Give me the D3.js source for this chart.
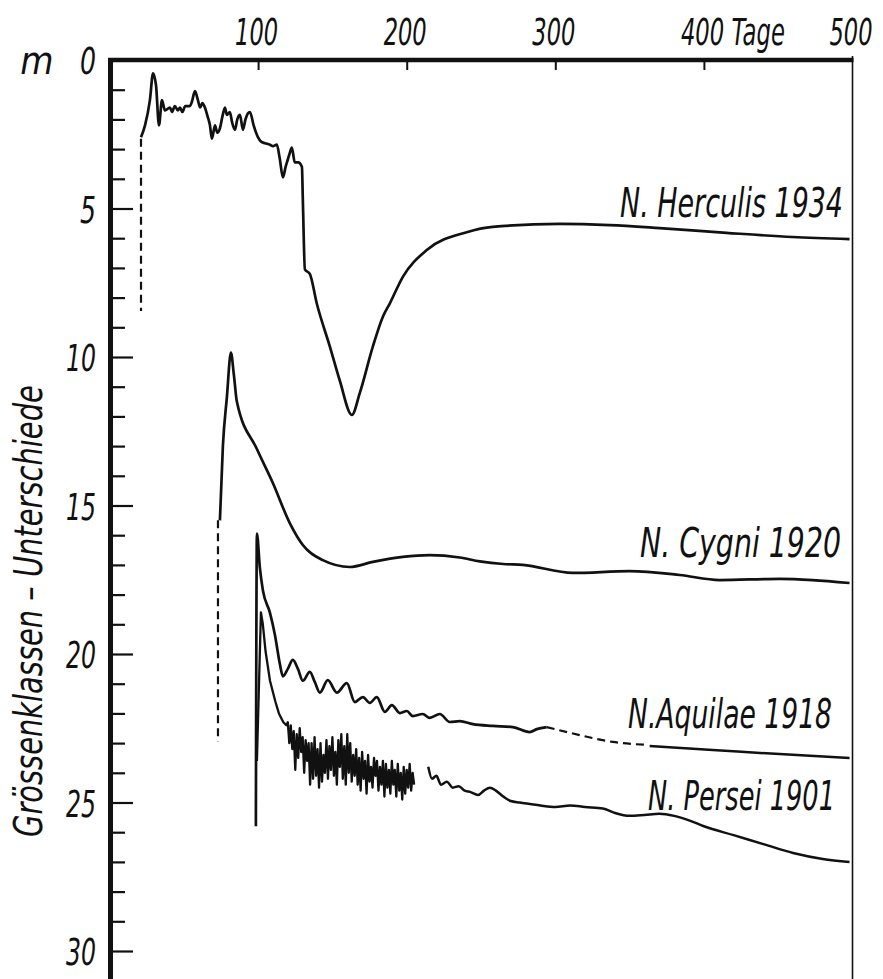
<!DOCTYPE html>
<html>
<head>
<meta charset="utf-8">
<script src="https://cdn.jsdelivr.net/npm/d3@7"></script>
<style>
  body { margin: 0; background: #fff; }
  text { font-family: "Liberation Sans Narrow", "DejaVu Sans Condensed", sans-serif; font-style: italic; fill: #111; }
</style>
</head>
<body>
<script>
// light curves: [Tage, Grössenklassen-Unterschied]
var herculis = [[21.2,2.6],[23.9,2.2],[27.2,1.35],[29.3,0.45],[31.3,0.85],[33.3,2.2],[35.3,1.35],[37.3,1.7],[40.7,1.6],
  [42,1.75],[44,1.55],[46,1.7],[47.4,1.6],[49,1.75],[51,1.55],[54.1,1.55],[55.5,1.4],[57.5,1.05],[59.5,1.35],[61,1.6],
  [62.5,1.45],[64.2,1.6],[66,1.9],[67.6,2.2],[68.9,2.65],[71.0,2.2],[72.5,2.45],[74.3,2.3],[76,1.9],[77.7,1.6],
  [79,1.85],[81.0,1.75],[82.5,2.1],[84.4,2.35],[86,2.0],[87.8,1.85],[89.8,2.35],[91.5,2.0],[93.1,1.8],[94.5,1.75],
  [97,2.2],[99.9,2.6],[102,2.75],[104.6,2.8],[108,2.85],[110,2.9],[112.6,2.85],[114.5,3.3],[116.7,3.95],
  [118.5,3.6],[120.0,3.35],[121.5,3.1],[122.7,2.95],[124.7,3.45],[127,3.45],[129.5,3.6],[130.1,4.7],[131.5,7.05],
  [134.8,7.2],[139.5,8.2],[148.3,9.65],[155.0,10.8],[163.1,11.95],[168.5,11.2],[177.2,9.65],[183.9,8.65],[188.6,8.2],
  [197.4,7.3],[213.5,6.4],[240.4,5.8],[257.9,5.62],[302.9,5.52],[336.6,5.56],[370.2,5.66],[415.2,5.82],[459.6,5.96],[498,6.03]];
var herculisDash = [[21.2,2.65],[21.2,8.45]];

var cygni = [[74.3,15.5],[76.3,13.0],[79.0,11.35],[81.7,9.85],[83.7,10.6],[85.7,11.5],[99.2,13.1],[110.0,14.25],
  [121.4,15.6],[130.1,16.33],[143.6,16.84],[161.7,17.07],[177.2,16.9],[197.4,16.73],[215.5,16.67],[235.7,16.75],
  [249.2,16.88],[265,16.97],[278.1,17.0],[311.7,17.27],[350.0,17.21],[383.7,17.34],[410.6,17.51],[450.9,17.47],
  [473.1,17.51],[498,17.61]];
var cygniDash = [[73.0,15.5],[73.0,22.95]];

var aquilae = [[98.5,25.8],[99.2,15.95],[101.2,17.1],[103.2,17.85],[107.9,18.6],[111.3,19.35],[114.7,20.35],[116.7,20.75],
  [120.0,20.5],[123.4,20.2],[126.8,20.5],[130.1,20.9],[134.8,20.6],[138.2,20.95],[141.6,21.3],[146.9,20.88],[153.0,21.3],
  [159.7,20.98],[165.1,21.62],[170.5,21.45],[175.2,21.65],[179.9,21.45],[185.3,21.95],[190.0,21.72],[195.4,21.99],
  [200.1,21.92],[204.1,22.09],[210.8,22.02],[215.5,22.15],[222.3,22.02],[229.0,22.29],[235.7,22.26],[244.5,22.36],
  [257.9,22.42],[271.4,22.46],[282.8,22.63],[287.5,22.53],[294.2,22.46]];
var aquilaeDash = [[294.2,22.46],[316.4,22.73],[338.6,22.96],[361.5,23.06]];
var aquilaeTail = [[363.5,23.1],[405.9,23.23],[450.9,23.37],[498,23.5]];

var persei = [[99.2,23.6],[101.9,18.6],[103.2,19.0],[105,19.9],[108,20.9],[111.6,21.6],[114,22.0],[117,22.3],[119,22.4],
  [120,22.3],[121,23.0],[122,22.4],[123,23.2],[124,22.6],[125,23.9],[126,22.7],[127,23.5],[128,22.5],[129,23.3],[130,22.8],
  [131,24.0],[132,22.9],[133,23.6],[134,23.0],[135,24.4],[136,23.0],[137,24.2],[138,22.8],[139,24.1],[140,23.2],[141,24.5],
  [142,23.0],[143,24.3],[144,23.4],[145,24.0],[146,22.9],[147,24.2],[148,23.1],[149,23.9],[150,22.8],[151,24.1],[152,23.3],
  [153,24.4],[154,22.9],[155,23.8],[156,22.7],[157,24.2],[158,23.1],[159,24.4],[160,22.7],[161,24.0],[162,23.0],[163,24.3],
  [164,23.4],[165,24.1],[166,23.2],[167,24.4],[168,23.5],[169,24.6],[170,23.3],[171,24.2],[172,23.6],[173,24.7],[174,23.4],
  [175,24.3],[176,23.8],[177,24.5],[178,23.5],[179,24.1],[180,23.6],[181,24.6],[182,23.8],[183,24.4],[184,23.6],[185,24.8],
  [186,23.7],[187,24.5],[188,23.9],[189,24.7],[190,23.6],[191,24.4],[192,23.9],[193,24.8],[194,23.7],[195,24.6],[196,24.0],
  [197,24.9],[198,23.8],[199,24.7],[200,23.9],[201,24.5],[202,23.7],[203,24.6],[204,24.0],[205,24.4]];
var perseiTail = [[214.5,23.8],[217,24.2],[220,24.1],[223,24.4],[227,24.3],[231,24.5],[235,24.45],[239,24.6],[243,24.65],
  [248,24.75],[252,24.6],[256,24.5],[260,24.6],[265,24.8],[270,24.95],[276,25.0],[283,25.05],[290,25.1],[300,25.15],
  [310,25.1],[320,25.15],[332,25.2],[340,25.35],[350,25.45],[360,25.42],[370,25.38],[380,25.45],[390,25.6],[400,25.8],
  [420,26.1],[440,26.4],[460,26.7],[480,26.9],[498,27.0]];

var dayTicks = [100, 200, 300, 400];
var dayLabels = ["100", "200", "300", "400 Tage", "500"];
var dayLabelAt = [100, 200, 300, 400, 500];
var magMajor = [0, 5, 10, 15, 20, 25, 30];
var magMinor = d3.range(1, 31).filter(function(v) { return v % 5 != 0; });
var names = ["N. Herculis 1934", "N. Cygni 1920", "N.Aquilae 1918", "N. Persei 1901"];

var W = 883, H = 979;
var svg = d3.select("body").append("svg").attr("width", W).attr("height", H);

var x = d3.scaleLinear().domain([0, 500]).range([109.5, 852.5]);
var y = d3.scaleLinear().domain([0, 30]).range([60, 951]);

// squeeze a text horizontally to a given width (narrow drawing-office lettering)
function fit(sel, px, py, width) {
  sel.each(function(d, i) {
    var t = d3.select(this);
    var w = typeof width == "function" ? width(d, i) : width;
    var nat = this.getComputedTextLength();
    t.attr("transform", "translate(" + px(d, i) + "," + py(d, i) + ") scale(" + (w / nat) + ",1)");
  });
}

// frame
svg.append("line").attr("x1", x(500)).attr("x2", x(500)).attr("y1", 56).attr("y2", H)
  .attr("stroke", "#111").attr("stroke-width", 1.6);
svg.append("line").attr("x1", 108).attr("x2", x(500) + 1).attr("y1", 60).attr("y2", 60)
  .attr("stroke", "#111").attr("stroke-width", 4.5);
svg.append("line").attr("x1", 110.5).attr("x2", 110.5).attr("y1", 58).attr("y2", H)
  .attr("stroke", "#111").attr("stroke-width", 5);

// top axis ticks
var dayAxis = d3.axisTop(x).tickValues(dayTicks).tickSize(-10).tickFormat("");
svg.append("g").attr("transform", "translate(0,60)").call(dayAxis)
  .call(function(g) { g.select(".domain").remove(); g.selectAll("line").attr("stroke", "#111").attr("stroke-width", 2); });

svg.selectAll(".dlab").data(dayLabels).enter().append("text")
  .attr("font-size", 38)
  .text(function(d) { return d; })
  .call(fit, function(d, i) { return x(dayLabelAt[i]) - 23; }, function() { return 45; },
    function(d) { return d.length > 3 ? 104 : 43; });

// left axis ticks
var leftMaj = d3.axisLeft(y).tickValues(magMajor.slice(1)).tickSize(-23).tickFormat("");
var leftMin = d3.axisLeft(y).tickValues(magMinor).tickSize(-15).tickFormat("");
[leftMaj, leftMin].forEach(function(ax) {
  svg.append("g").attr("transform", "translate(110,0)").call(ax)
    .call(function(g) { g.select(".domain").remove(); g.selectAll("line").attr("stroke", "#111").attr("stroke-width", 2.2); });
});

svg.selectAll(".mlab").data(magMajor).enter().append("text")
  .attr("text-anchor", "end")
  .attr("font-size", 38)
  .text(function(d) { return d; })
  .call(fit, function() { return 96; }, function(d) { return y(d) + 14; },
    function(d) { return d < 10 ? 16 : 30; });

svg.append("text").attr("x", 37).attr("y", 74).attr("text-anchor", "middle")
  .attr("font-size", 38).text("m");

svg.append("text")
  .attr("font-size", 39)
  .text("Grössenklassen – Unterschiede")
  .each(function() {
    var nat = this.getComputedTextLength();
    d3.select(this).attr("transform", "translate(42,837) rotate(-90) scale(" + (452 / nat) + ",1)");
  });

// curves
var line = d3.line().x(function(d) { return x(d[0]); }).y(function(d) { return y(d[1]); }).curve(d3.curveMonotoneX);
var straight = d3.line().x(function(d) { return x(d[0]); }).y(function(d) { return y(d[1]); });

function draw(data, gen, w, dash) {
  svg.append("path").attr("d", gen(data)).attr("fill", "none").attr("stroke", "#111")
    .attr("stroke-width", w).attr("stroke-linejoin", "round")
    .attr("stroke-dasharray", dash || null);
}
draw(herculis, line, 2.7);
draw(herculisDash, straight, 2.2, "8,5");
draw(cygni, line, 2.7);
draw(cygniDash, straight, 2.2, "8,5");
draw(aquilae, line, 2.7);
draw(aquilaeDash, line, 2.2, "8,5");
draw(aquilaeTail, line, 2.5);
draw(persei, straight, 2.3);
draw(perseiTail, line, 2.5);

// curve labels
var labPos = [[843, 217, 223], [841, 557, 201], [832, 728, 204], [835, 810, 187]];
svg.selectAll(".nlab").data(names).enter().append("text")
  .attr("text-anchor", "end")
  .attr("font-size", 41)
  .text(function(d) { return d; })
  .call(fit, function(d, i) { return labPos[i][0]; }, function(d, i) { return labPos[i][1]; },
    function(d, i) { return labPos[i][2]; });
</script>
</body>
</html>
